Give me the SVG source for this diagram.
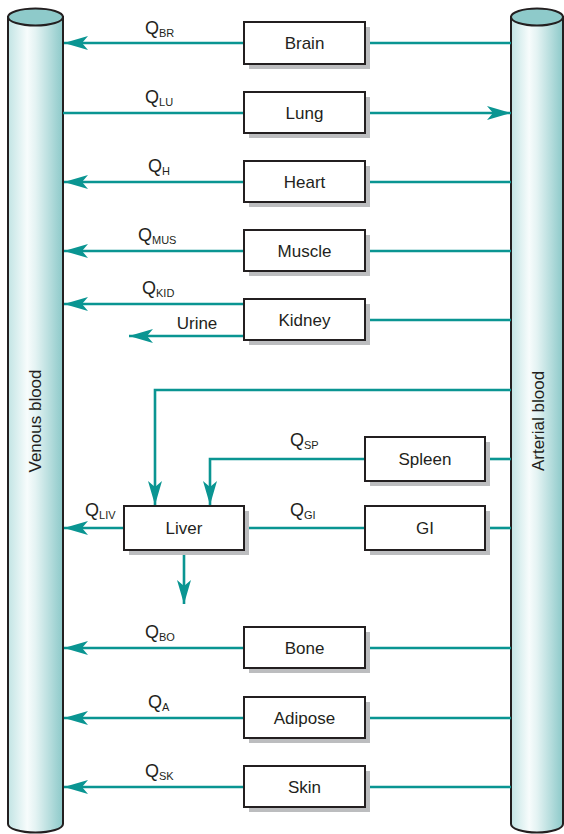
<svg xmlns="http://www.w3.org/2000/svg" width="564" height="834" viewBox="0 0 564 834">
<defs>
<linearGradient id="cyl" x1="0" y1="0" x2="1" y2="0">
<stop offset="0" stop-color="#c2e4e4"/>
<stop offset="0.35" stop-color="#f7fcfc"/>
<stop offset="0.5" stop-color="#e4f3f3"/>
<stop offset="1" stop-color="#8cc9c9"/>
</linearGradient>
<marker id="ah" viewBox="0 0 24 14" refX="24" refY="7" markerWidth="24" markerHeight="14" markerUnits="userSpaceOnUse" orient="auto">
<path d="M0,0 L24,7 L0,14 L6,7 Z" fill="#0a9592"/>
</marker>
<style>
.cyl{fill:url(#cyl);stroke:#231f20;stroke-width:2}
.cap{fill:#8ecaca;stroke:#231f20;stroke-width:2}
.box{fill:#ffffff;stroke:#231f20;stroke-width:2}
.sh{fill:#bcbdbf}
.lbl{font-family:"Liberation Sans",Arial,sans-serif;font-size:17px;fill:#231f20;text-anchor:middle}
.q{font-family:"Liberation Sans",Arial,sans-serif;font-size:18px;fill:#231f20}
.q tspan{font-size:11px}
.c{fill:none;stroke:#0a9592;stroke-width:2.6}
.a{marker-end:url(#ah)}
</style>
</defs>

<g id="venous">
<path class="cyl" d="M8,17 L8,824 A27.5,8.5 0 0 0 63,824 L63,17 Z"/>
<ellipse class="cap" cx="35.5" cy="17" rx="27.5" ry="8.5"/>
<text class="lbl" transform="translate(41,421) rotate(-90)">Venous blood</text>
</g>
<g id="arterial">
<path class="cyl" d="M511,17 L511,824 A26,8.5 0 0 0 563,824 L563,17 Z"/>
<ellipse class="cap" cx="537" cy="17" rx="26" ry="8.5"/>
<text class="lbl" transform="translate(544,421) rotate(-90)">Arterial blood</text>
</g>

<g id="connectors">
<!-- Brain -->
<line class="c" x1="365" y1="43" x2="511" y2="43"/>
<line class="c a" x1="244" y1="43" x2="64" y2="43"/>
<!-- Lung -->
<line class="c" x1="63" y1="113" x2="244" y2="113"/>
<line class="c a" x1="365" y1="113" x2="511" y2="113"/>
<!-- Heart -->
<line class="c" x1="365" y1="182" x2="511" y2="182"/>
<line class="c a" x1="244" y1="182" x2="64" y2="182"/>
<!-- Muscle -->
<line class="c" x1="365" y1="251" x2="511" y2="251"/>
<line class="c a" x1="244" y1="251" x2="64" y2="251"/>
<!-- Kidney -->
<line class="c" x1="365" y1="320" x2="511" y2="320"/>
<line class="c a" x1="244" y1="304" x2="64" y2="304"/>
<line class="c a" x1="244" y1="336" x2="129" y2="336"/>
<!-- Hepatic artery -->
<polyline class="c a" points="511,390 155,390 155,505"/>
<!-- Spleen -->
<line class="c" x1="485" y1="459" x2="511" y2="459"/>
<polyline class="c a" points="365,459 210,459 210,505"/>
<!-- GI -->
<line class="c" x1="485" y1="528" x2="511" y2="528"/>
<line class="c" x1="365" y1="528" x2="244" y2="528"/>
<!-- Liver -->
<line class="c a" x1="124" y1="528" x2="64" y2="528"/>
<line class="c a" x1="184" y1="550" x2="184" y2="604"/>
<!-- Bone -->
<line class="c" x1="365" y1="648" x2="511" y2="648"/>
<line class="c a" x1="244" y1="648" x2="64" y2="648"/>
<!-- Adipose -->
<line class="c" x1="365" y1="718" x2="511" y2="718"/>
<line class="c a" x1="244" y1="718" x2="64" y2="718"/>
<!-- Skin -->
<line class="c" x1="365" y1="787" x2="511" y2="787"/>
<line class="c a" x1="244" y1="787" x2="64" y2="787"/>

<text class="q" x="145" y="34">Q<tspan dy="3">BR</tspan></text>
<text class="q" x="145" y="103">Q<tspan dy="3">LU</tspan></text>
<text class="q" x="148" y="172">Q<tspan dy="3">H</tspan></text>
<text class="q" x="138" y="241">Q<tspan dy="3">MUS</tspan></text>
<text class="q" x="142" y="294">Q<tspan dy="3">KID</tspan></text>
<text class="lbl" x="197" y="329">Urine</text>
<text class="q" x="290" y="446">Q<tspan dy="3">SP</tspan></text>
<text class="q" x="290" y="516">Q<tspan dy="3">GI</tspan></text>
<text class="q" x="85" y="516">Q<tspan dy="3">LIV</tspan></text>
<text class="q" x="145" y="638">Q<tspan dy="3">BO</tspan></text>
<text class="q" x="148" y="708">Q<tspan dy="3">A</tspan></text>
<text class="q" x="145" y="777">Q<tspan dy="3">SK</tspan></text>
</g>

<g id="brain"><rect class="sh" x="249" y="27" width="121" height="42"/><rect class="box" x="244" y="22" width="121" height="42"/><text class="lbl" x="304.5" y="49">Brain</text></g>
<g id="lung"><rect class="sh" x="249" y="97" width="121" height="41"/><rect class="box" x="244" y="92" width="121" height="41"/><text class="lbl" x="304.5" y="119">Lung</text></g>
<g id="heart"><rect class="sh" x="249" y="166" width="121" height="41"/><rect class="box" x="244" y="161" width="121" height="41"/><text class="lbl" x="304.5" y="188">Heart</text></g>
<g id="muscle"><rect class="sh" x="249" y="235" width="121" height="41"/><rect class="box" x="244" y="230" width="121" height="41"/><text class="lbl" x="304.5" y="257">Muscle</text></g>
<g id="kidney"><rect class="sh" x="249" y="304" width="121" height="41"/><rect class="box" x="244" y="299" width="121" height="41"/><text class="lbl" x="304.5" y="326">Kidney</text></g>
<g id="spleen"><rect class="sh" x="370" y="442" width="120" height="44"/><rect class="box" x="365" y="437" width="120" height="44"/><text class="lbl" x="425" y="465">Spleen</text></g>
<g id="gi"><rect class="sh" x="370" y="511" width="120" height="44"/><rect class="box" x="365" y="506" width="120" height="44"/><text class="lbl" x="425" y="534">GI</text></g>
<g id="liver"><rect class="sh" x="129" y="511" width="120" height="44"/><rect class="box" x="124" y="506" width="120" height="44"/><text class="lbl" x="184" y="534">Liver</text></g>
<g id="bone"><rect class="sh" x="249" y="632" width="121" height="41"/><rect class="box" x="244" y="627" width="121" height="41"/><text class="lbl" x="304.5" y="654">Bone</text></g>
<g id="adipose"><rect class="sh" x="249" y="702" width="121" height="41"/><rect class="box" x="244" y="697" width="121" height="41"/><text class="lbl" x="304.5" y="724">Adipose</text></g>
<g id="skin"><rect class="sh" x="249" y="771" width="121" height="41"/><rect class="box" x="244" y="766" width="121" height="41"/><text class="lbl" x="304.5" y="793">Skin</text></g>
</svg>
